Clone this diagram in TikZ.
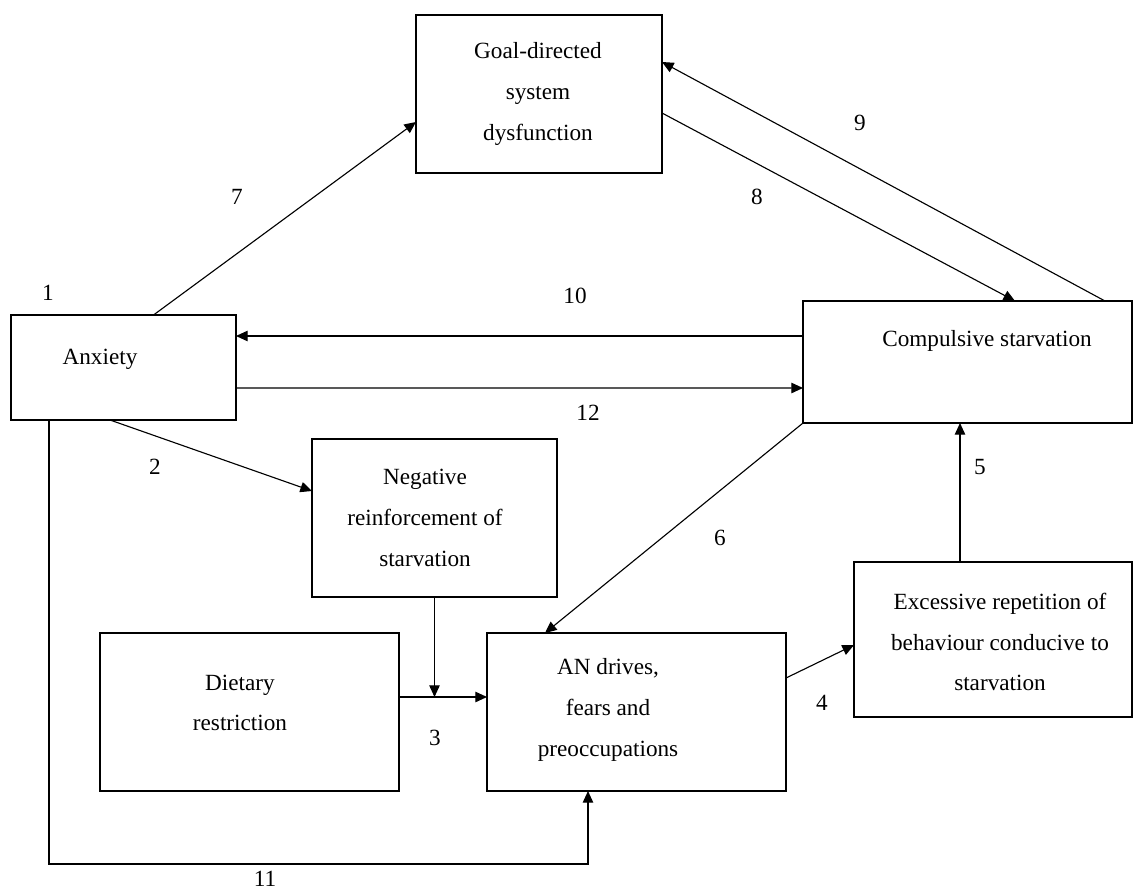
\documentclass[tikz,border=0pt]{standalone}
\usepackage{fontspec}
\setmainfont{Liberation Serif}
\usetikzlibrary{arrows.meta,calc}
\newcommand\unitpx{0.025cm}
\begin{document}
\begin{tikzpicture}[x=0.025cm, y=-0.025cm,
 box/.style ={rectangle, draw=black, line width=0.8pt, inner sep=0pt, outer sep=0pt},
 txt/.style ={align=center, font=\fontsize{16.5}{29}\selectfont},
 num/.style ={font=\fontsize{16.5}{20}\selectfont},
 line/.style ={draw, line width=0.8pt, -{Triangle[length=2.9mm,width=2.6mm]}}]

\useasboundingbox (0,0) rectangle (1133,894);

% boxes
\node[box, minimum width=246*\unitpx, minimum height=158*\unitpx] (goal) at (539,94) {};
\node[box, minimum width=225*\unitpx, minimum height=105*\unitpx] (anx) at (123.5,367.5) {};
\node[box, minimum width=329*\unitpx, minimum height=122*\unitpx] (comp) at (967.5,362) {};
\node[box, minimum width=245*\unitpx, minimum height=158*\unitpx] (neg) at (434.5,518) {};
\node[box, minimum width=299*\unitpx, minimum height=158*\unitpx] (diet) at (249.5,712) {};
\node[box, minimum width=299*\unitpx, minimum height=158*\unitpx] (an) at (636.5,712) {};
\node[box, minimum width=278*\unitpx, minimum height=155*\unitpx] (exc) at (993,639.5) {};

% box texts
\node[txt] (goalT) at (538,94) {Goal-directed\\system\\dysfunction};
\node[txt] (anxT) at (100,359) {Anxiety};
\node[txt] (compT) at (987,341) {Compulsive starvation};
\node[txt] (negT) at (425,518) {Negative\\reinforcement of\\starvation};
\node[txt] (dietT) at (240,703) {Dietary\\restriction};
\node[txt] (anT) at (608,710) {AN drives,\\fears and\\preoccupations};
\node[txt] (excT) at (1000,642) {Excessive repetition of\\behaviour conducive to\\starvation};

% numbers
\node[num] (n1) at (48,293) {1};
\node[num] (n2) at (155,467) {2};
\node[num] (n3) at (435,738) {3};
\node[num] (n4) at (822,703) {4};
\node[num] (n5) at (980,467) {5};
\node[num] (n6) at (720,538) {6};
\node[num] (n7) at (237,197) {7};
\node[num] (n8) at (757,197) {8};
\node[num] (n9) at (860,123) {9};
\node[num] (n10) at (575,296) {10};
\node[num] (n11) at (265,879) {11};
\node[num] (n12) at (588,413) {12};

\coordinate (j3) at ($(diet.east)+(0,-15)$);

	\draw [line] ($(anx.north)+(30,0)$) -- ($(goal.west)+(0,28)$);
	\draw [line] ($(goal.east)+(0,19)$) -- ($(comp.north)+(47.5,0)$);
	\draw [line] ($(comp.north)+(137.5,0)$) -- ($(goal.east)+(0,-32)$);
	\draw [line] ($(comp.west)+(0,-26)$) -- ($(anx.east)+(0,-31.5)$);
	\draw [line] ($(anx.east)+(0,20.5)$) -- ($(comp.west)+(0,26)$);
	\draw [line] ($(anx.south)+(-13.5,0)$) -- ($(neg.west)+(0,-27)$);
	\draw [line] (neg.south) -- (neg.south |- j3);
	\draw [line] (j3) -- ($(an.west)+(0,-15)$);
	\draw [line] (comp.south west) -- ($(an.north)+(-91.5,0)$);
	\draw [line] ($(an.east)+(0,-34)$) -- ($(exc.west)+(0,5.5)$);
	\draw [line] ($(exc.north)+(-33,0)$) -- ($(comp.south)+(-7.5,0)$);
	\draw [line] ($(anx.south)+(-74.5,0)$) |- ($(an.south)+(-48.5,73)$) -- ($(an.south)+(-48.5,0)$);

\end{tikzpicture}
\end{document}
